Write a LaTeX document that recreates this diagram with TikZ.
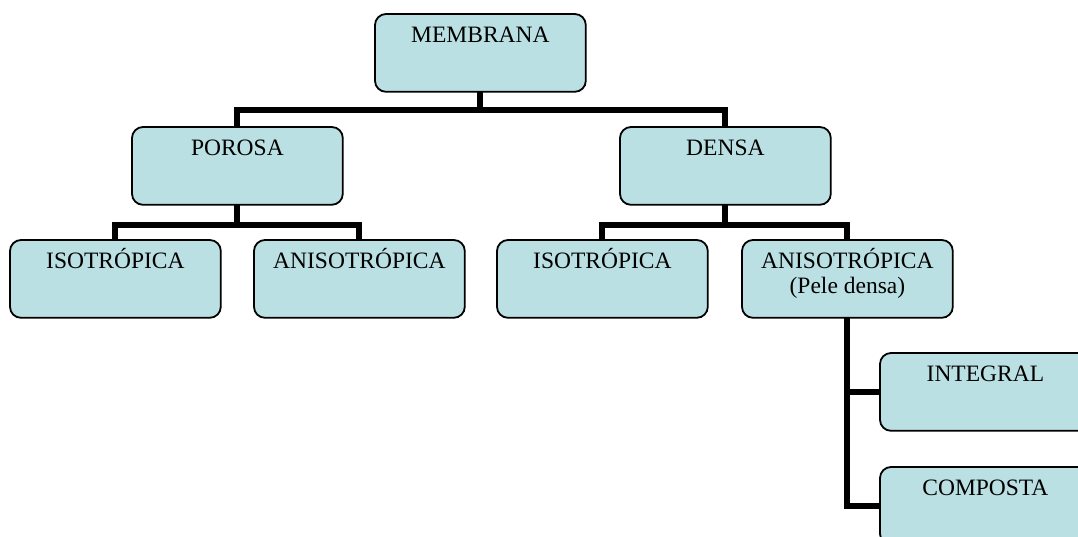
\documentclass[tikz,border=0pt]{standalone}
\usepackage{fontspec}
\setmainfont{Liberation Serif}
\usetikzlibrary{calc}
\definecolor{boxfill}{RGB}{187,224,227}
\tikzset{
  box/.style={draw=black, line width=1.8pt, fill=boxfill, rounded corners=11pt,
    minimum width=209pt, minimum height=76pt, inner sep=0pt, anchor=north west},
  boxline/.style={draw=black, line width=1.8pt, fill=boxfill, rounded corners=11pt},
  txt/.style={font=\fontsize{23.5}{26}\selectfont, inner sep=0pt, anchor=base},
  conn/.style={line width=6pt, line join=miter}
}
\begin{document}
\begin{tikzpicture}[x=1pt,y=1pt]
\useasboundingbox (0,0) rectangle (1078,-536);
\clip (0,0) rectangle (1078,-536);
% boxes (placed first so connectors can reference them; redrawn on top later)
\path
  node[box] (membrana) at (375,-14) {}
  node[box] (porosa) at (132,-127) {}
  node[box] (densa) at (620,-127) {}
  node[box] (isoL) at (10,-240) {}
  node[box] (anisoL) at (254,-240) {}
  node[box] (isoR) at (497,-240) {}
  node[box] (anisoR) at (742,-240) {}
  node[box] (integral) at (880,-353) {}
  node[box] (composta) at (880,-467) {};
% connectors
\draw[conn] (membrana.south) -- ++(0,-18) -| (porosa.north);
\draw[conn] (membrana.south) -- ++(0,-18) -| (densa.north);
\draw[conn] (porosa.south) -- ++(0,-20) -| (isoL.north);
\draw[conn] (porosa.south) -- ++(0,-20) -| (anisoL.north);
\draw[conn] (densa.south) -- ++(0,-20) -| (isoR.north);
\draw[conn] (densa.south) -- ++(0,-20) -| (anisoR.north);
\draw[conn] (anisoR.south) |- (integral.west);
\draw[conn] (anisoR.south) |- (composta.west);
% redraw boxes over connector ends
\foreach \n in {membrana,porosa,densa,isoL,anisoL,isoR,anisoR,integral,composta}{
  \draw[boxline] (\n.north west) rectangle (\n.south east);
}
% texts
\node[txt] (tMembrana) at ($(membrana.north)+(0,-28)$) {MEMBRANA};
\node[txt] (tPorosa) at ($(porosa.north)+(0,-28)$) {POROSA};
\node[txt] (tDensa) at ($(densa.north)+(0,-28)$) {DENSA};
\node[txt] (tIsoL) at ($(isoL.north)+(0,-28)$) {ISOTRÓPICA};
\node[txt] (tAnisoL) at ($(anisoL.north)+(0,-28)$) {ANISOTRÓPICA};
\node[txt] (tIsoR) at ($(isoR.north)+(0,-28)$) {ISOTRÓPICA};
\node[txt] (tAnisoR) at ($(anisoR.north)+(0,-28)$) {ANISOTRÓPICA};
\node[txt] (tPele) at ($(anisoR.north)+(0,-53)$) {(Pele densa)};
\node[txt] (tIntegral) at ($(integral.north)+(0,-28)$) {INTEGRAL};
\node[txt] (tComposta) at ($(composta.north)+(0,-28)$) {COMPOSTA};
\end{tikzpicture}
\end{document}
